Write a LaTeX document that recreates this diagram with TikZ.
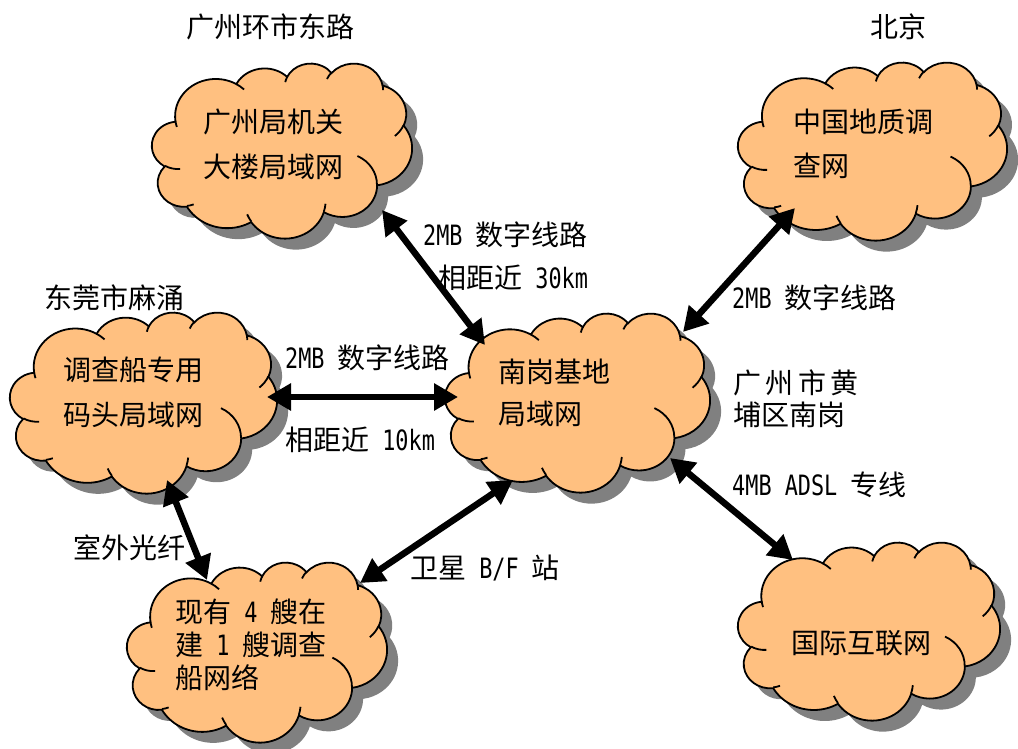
\documentclass[tikz,border=0pt]{standalone}
\usepackage{fontspec}
\setmainfont{Noto Sans CJK SC}
\newfontfamily\hw[FakeStretch=0.78]{DejaVu Sans Mono}
\usetikzlibrary{arrows.meta}
\definecolor{cloudfill}{HTML}{FFC080}
\definecolor{shadowgray}{HTML}{808080}

% arc of the PowerPoint cloud: x radius, y radius, start angle, sweep (visual angles)
\newcommand\carc[4]{arc[x radius=#1pt, y radius=#2pt,
  start angle={atan2((#1)*sin(#3),(#2)*cos(#3))},
  delta angle={mod(atan2((#1)*sin(#3+#4),(#2)*cos(#3+#4))-atan2((#1)*sin(#3),(#2)*cos(#3))+720,360)}]}

\newcommand\cloudouter{(3.9,14.37)
  \carc{6.753}{9.19}{-190.4875}{123.7805}
  \carc{5.333}{7.267}{-144.1024}{89.9452}
  \carc{4.365}{5.945}{-145.8079}{99.7230}
  \carc{4.857}{6.595}{-130.9861}{117.2417}
  \carc{5.333}{7.273}{-78.7089}{109.0269}
  \carc{6.775}{9.22}{-46.2673}{130.2690}
  \carc{5.785}{7.867}{0.6250}{114.0333}
  \carc{6.752}{9.215}{22.4516}{115.1726}
  \carc{7.72}{10.543}{66.2426}{75.7110}
  \carc{4.36}{5.918}{-274.9421}{146.7356}
  \carc{4.345}{5.945}{-246.8285}{152.5189} -- cycle}

\newcommand\cloudinner{%
  (4.693,26.177) \carc{4.345}{5.945}{86.742}{26.4295}
  (6.928,34.899) \carc{4.36}{5.918}{73.6105}{11.4475}
  (16.478,39.09) \carc{6.752}{9.215}{137.6242}{14.0811}
  (28.827,34.751) \carc{6.752}{9.215}{6.4533}{15.9984}
  (34.129,22.954) \carc{5.785}{7.867}{-70.2924}{70.9174}
  (41.798,15.354) \carc{5.333}{7.273}{30.318}{27.7515}
  (38.324,5.426) \carc{4.857}{6.595}{-13.7443}{14.8589}
  (29.078,3.952) \carc{4.857}{6.595}{-149.1815}{18.1954}
  (22.141,4.72) \carc{4.365}{5.945}{-163.4943}{17.6864}
  (14,5.192) \carc{6.753}{9.19}{-66.707}{12.3194}
  (4.127,15.789) \carc{6.753}{9.19}{157.6544}{11.8582}}

% left, top, width, height (image pixels, y downwards)
\newcommand\netcloud[4]{%
  \begin{scope}[shift={(#1+11,-#2-11)},xscale=#3/43.2,yscale=-#4/43.2]
    \fill[shadowgray] \cloudouter;
  \end{scope}
  \begin{scope}[shift={(#1,-#2)},xscale=#3/43.2,yscale=-#4/43.2]
    \filldraw[cloudbody] \cloudouter;
    \draw[cloudline] \cloudinner;
  \end{scope}}

\tikzset{
  cloudbody/.style={fill=cloudfill,draw=black,line width=1.8pt},
  cloudline/.style={draw=black,line width=1.8pt},
  lbl/.style={inner sep=0pt,font=\fontsize{28}{44}\selectfont},
  ctext/.style={lbl,align=left,anchor=west},
  link/.style={line width=6.5pt,{Triangle[length=24pt,width=26pt]}-{Triangle[length=24pt,width=26pt]}}
}

\begin{document}
\begin{tikzpicture}[x=1pt,y=1pt]
\useasboundingbox (0,0) rectangle (1018,-749);

\netcloud{152}{63}{260}{175}
\netcloud{738}{62}{269}{178}
\netcloud{10}{312}{267}{181}
\netcloud{445}{313}{265}{179}
\netcloud{127}{562}{260}{180}
\netcloud{738}{542}{262}{178}

% texts inside the clouds
\node[ctext,font=\fontsize{28}{45}\selectfont] (t1) at (203,-144.5) {广州局机关\\大楼局域网};
\node[ctext,font=\fontsize{28}{44}\selectfont] (t2) at (793,-144) {中国地质调\\查网};
\node[ctext,font=\fontsize{28}{45}\selectfont] (t3) at (63,-392) {调查船专用\\码头局域网};
\node[ctext,font=\fontsize{28}{42}\selectfont] (t4) at (498,-393) {南岗基地\\局域网};
\node[ctext,font=\fontsize{28}{33}\selectfont] (t5) at (175,-644.5) {现有{\hw\ 4\ }艘在\\建{\hw\ 1\ }艘调查\\船网络};
\node[lbl] (t6) at (861,-643) {国际互联网};

% place labels
\node[lbl] (l1) at (270,-27) {广州环市东路};
\node[lbl] (l2) at (898,-27) {北京};
\node[lbl] (l3) at (115,-298) {东莞市麻涌};
\node[ctext] (l9) at (733,-383) {广\hspace{4.5pt}州\hspace{4.5pt}市\hspace{4.5pt}黄};
\node[ctext] (l10) at (733,-415) {埔区南岗};

% link labels
\node[ctext] (l4) at (423,-235) {{\hw 2MB }数字线路};
\node[ctext] (l5) at (438,-278) {相距近{\hw\ 30km}};
\node[ctext] (l6) at (732,-298) {{\hw 2MB }数字线路};
\node[ctext] (l7) at (285,-358) {{\hw 2MB }数字线路};
\node[ctext] (l8) at (285,-440) {相距近{\hw\ 10km}};
\node[ctext] (l11) at (732,-485) {{\hw 4MB ADSL }专线};
\node[ctext] (l12) at (73,-548) {室外光纤};
\node[ctext] (l13) at (410,-568) {卫星{\hw\ B/F }站};

% link end points
\coordinate (a1s) at (382,-210);
\coordinate (a1e) at (485,-345);
\coordinate (a2s) at (795,-208);
\coordinate (a2e) at (683,-332);
\coordinate (a3s) at (267,-397);
\coordinate (a3e) at (458,-397);
\coordinate (a4s) at (167,-480);
\coordinate (a4e) at (207,-580);
\coordinate (a5s) at (513,-480);
\coordinate (a5e) at (360,-583);
\coordinate (a6s) at (670,-458);
\coordinate (a6e) at (793,-560);

\draw[link] (a1s) -- (a1e);
\draw[link] (a2s) -- (a2e);
\draw[link] (a3s) -- (a3e);
\draw[link] (a4s) -- (a4e);
\draw[link] (a5s) -- (a5e);
\draw[link] (a6s) -- (a6e);
\end{tikzpicture}
\end{document}
